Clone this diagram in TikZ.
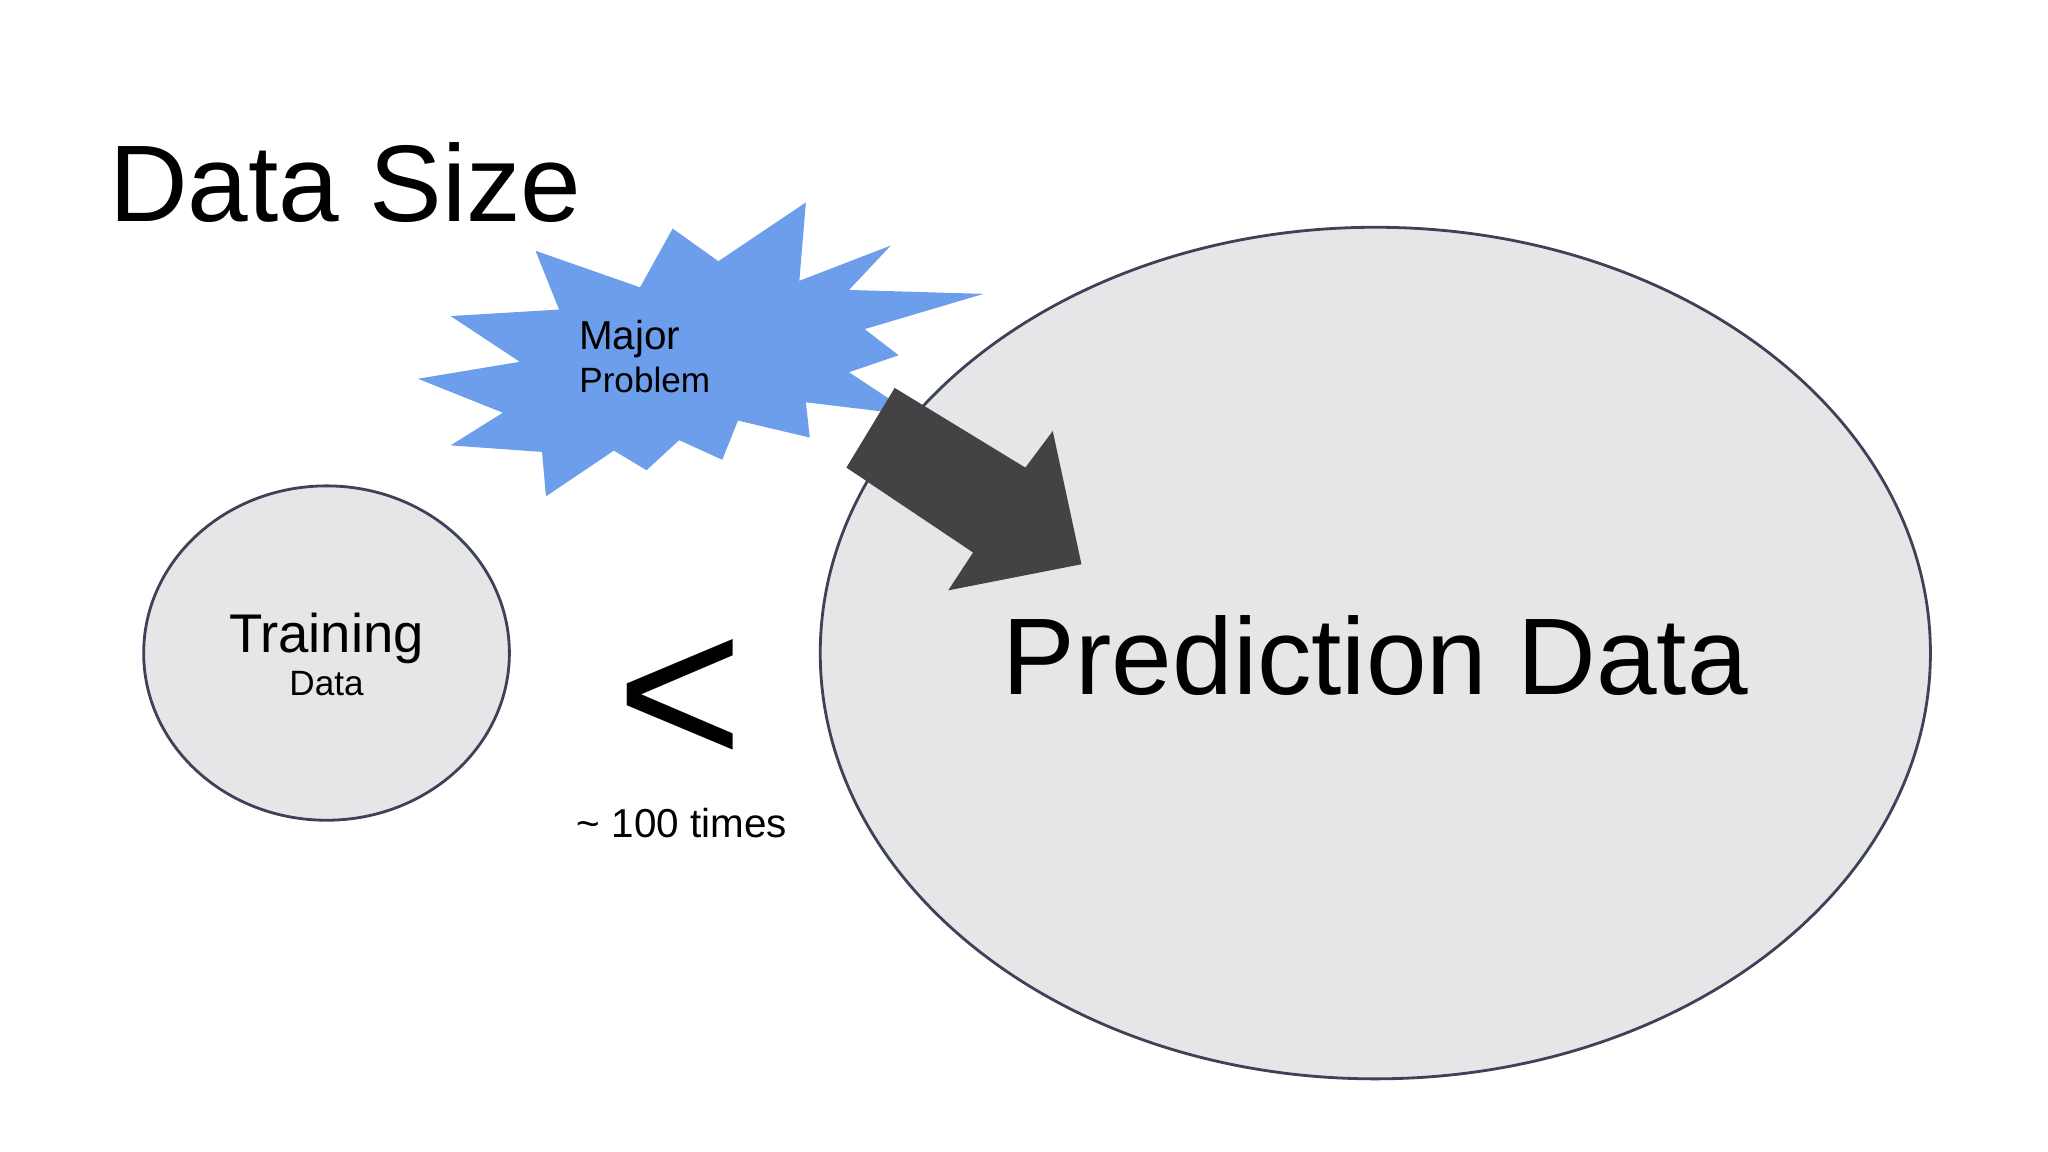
\documentclass[tikz,border=0pt]{standalone}
\usepackage{fontspec}
\setmainfont{Liberation Sans}
\definecolor{ellfill}{HTML}{E6E6E8}
\definecolor{elldraw}{HTML}{3C4257}
\definecolor{burst}{HTML}{6D9EEB}
\definecolor{arrowc}{HTML}{434346}
\begin{document}
\begin{tikzpicture}[x=0.013061cm,y=-0.013061cm,
  ell/.style={fill=ellfill,draw=elldraw,line width=0.8pt},
  txt/.style={inner sep=0pt,text=black}]
\useasboundingbox[fill=white] (0,0) rectangle (1568,882);
\draw[ell] (250,500) ellipse [x radius=140,y radius=128];
\draw[ell] (1053,500) ellipse [x radius=425,y radius=326];
\fill[burst] (617,155)--(612,215)--(682,188)--(650,222)--(753,225)--(662,252)--(688,272)--(650,285)--(700,318)--(617,308)--(620,335)--(565,322)--(553,352)--(520,337)--(495,360)--(470,345)--(418,380)--(415,346)--(345,341)--(385,316)--(320,290)--(398,277)--(345,242)--(428,237)--(410,192)--(490,220)--(515,175)--(550,200)--cycle;
\fill[arrowc] (685,297)--(785,358)--(806,330)--(828,432)--(726,452)--(745,423)--(648,358)--cycle;
\node[txt,anchor=west] (title) at (83,140) {\fontsize{31}{36}\selectfont Data Size};
\node[txt,anchor=west,align=left] (major) at (443,273) {\fontsize{11.5}{13.5}\selectfont Major\\Problem};
\node[txt,align=center] (train) at (250,501) {\fontsize{15.5}{17.5}\selectfont Training\\Data};
\node[txt] (lt) at (521,538) {\fontsize{62}{70}\selectfont <};
\node[txt] (times) at (522,630) {\fontsize{11.5}{13.5}\selectfont \textasciitilde{} 100 times};
\node[txt] (pred) at (1053,502) {\fontsize{31}{36}\selectfont Prediction Data};
\end{tikzpicture}
\end{document}
